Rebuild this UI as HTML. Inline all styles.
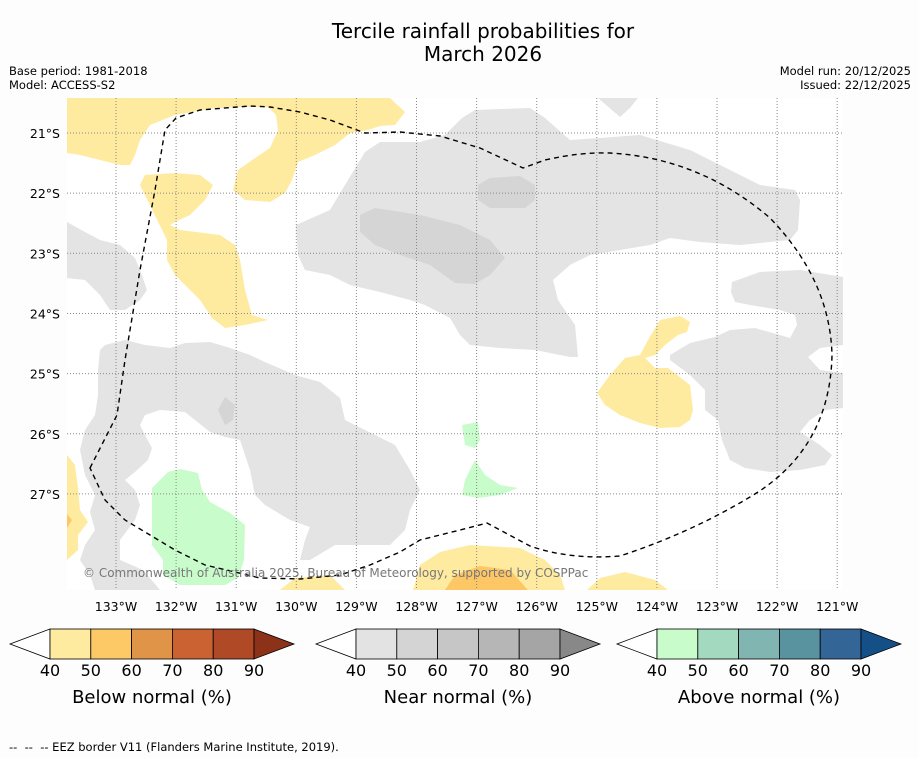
<!DOCTYPE html>
<html><head><meta charset="utf-8"><style>
body{margin:0;background:#fdfdfd;width:919px;height:758px;overflow:hidden;font-family:"Liberation Sans",sans-serif}
svg{display:block}
</style></head><body>
<svg width="919" height="758" viewBox="0 0 919 758" font-family="DejaVu Sans, Liberation Sans, sans-serif">
<rect width="919" height="758" fill="#fdfdfd"/>
<text x="483" y="38" font-size="20" text-anchor="middle" fill="#000">Tercile rainfall probabilities for</text>
<text x="483" y="61" font-size="20" text-anchor="middle" fill="#000">March 2026</text>
<text x="9" y="75" font-size="11.5">Base period: 1981-2018</text>
<text x="9" y="89" font-size="11.5">Model: ACCESS-S2</text>
<text x="911" y="75" font-size="11.5" text-anchor="end">Model run: 20/12/2025</text>
<text x="911" y="89" font-size="11.5" text-anchor="end">Issued: 22/12/2025</text>

<defs><clipPath id="mc"><rect x="67" y="98" width="776" height="492"/></clipPath></defs>
<g clip-path="url(#mc)">
<rect x="67" y="98" width="776" height="492" fill="#fff"/>
<g stroke="none">
<polygon fill="#e4e4e4" points="296,225 330,210 345,185 365,152 380,142 420,142 445,135 462,118 475,110 530,108 545,118 570,140 600,138 640,135 690,150 720,165 760,185 795,190 800,200 798,230 790,240 740,245 700,242 670,238 650,245 620,250 590,255 570,265 553,280 558,300 575,325 578,357 570,357 535,350 500,348 470,345 460,335 450,318 425,305 410,300 380,292 350,285 330,275 305,270 298,255"/>
<polygon fill="#e4e4e4" points="598,98 638,98 630,108 620,117"/>
<polygon fill="#d5d5d5" points="360,215 375,208 420,215 460,225 490,240 505,258 490,275 475,284 455,283 430,265 400,255 375,245 360,232"/>
<polygon fill="#d5d5d5" points="478,185 490,178 520,176 535,185 535,200 525,208 490,208 478,200"/>
<polygon fill="#e4e4e4" points="732,282 760,272 800,270 843,277 843,345 820,348 808,357 820,370 843,373 843,408 825,410 810,420 800,432 820,445 832,455 825,465 800,470 770,472 745,468 730,460 722,440 718,420 705,410 705,390 690,375 670,360 670,355 690,343 715,337 730,330 755,328 790,338 797,325 795,315 780,310 750,305 735,302 731,292"/>
<polygon fill="#feeba0" points="597,393 610,375 625,358 640,355 648,340 660,320 680,316 690,322 687,332 678,335 665,345 655,355 645,358 655,368 668,368 690,385 693,410 690,420 680,427 660,428 640,423 620,415 605,405"/>
<polygon fill="#c8fcca" points="462,425 478,422 480,440 475,448 465,445"/>
<polygon fill="#c8fcca" points="462,495 465,480 475,460 485,475 500,485 518,488 500,495 478,498"/>
<polygon fill="#feeba0" points="67,98 390,98 405,112 395,125 380,126 368,130 350,133 335,145 315,155 298,162 292,180 285,193 270,202 245,200 233,190 238,170 255,158 270,148 278,130 276,115 268,107 240,107 215,108 175,115 150,125 140,140 135,155 130,165 120,165 100,160 80,155 67,153"/>
<polygon fill="#feeba0" points="140,185 145,175 175,173 200,175 213,185 205,200 190,215 175,222 170,225 180,230 220,235 235,245 240,260 245,290 252,315 268,320 245,325 225,328 212,318 200,300 185,285 175,275 167,260 167,240"/>
<polygon fill="#e4e4e4" points="67,222 85,232 100,240 120,245 135,258 140,270 147,290 140,300 125,310 110,310 100,295 85,280 67,278"/>
<polygon fill="#e4e4e4" points="100,350 105,345 125,340 145,345 170,348 185,343 210,342 230,348 250,355 265,362 295,375 320,382 340,398 345,420 365,430 395,445 410,470 420,490 410,510 405,530 390,545 365,545 335,545 310,560 300,560 305,540 310,527 290,520 265,505 255,495 250,470 245,455 240,440 225,437 210,432 195,420 185,412 160,410 145,415 140,425 145,435 152,448 148,460 135,472 125,480 135,490 140,505 135,520 120,540 120,560 143,570 160,590 95,590 90,575 80,560 85,545 95,530 90,512 95,495 85,475 80,450 85,430 95,415 98,395 98,370"/>
<polygon fill="#d5d5d5" points="218,410 225,397 235,405 233,420 225,425"/>
<polygon fill="#c8fcca" points="152,488 168,472 180,469 198,473 202,490 210,502 230,513 245,525 244,560 238,578 225,585 180,585 163,575 163,560 152,545"/>
<polygon fill="#feeba0" points="67,455 75,465 78,488 80,510 88,522 78,535 78,550 67,560"/>
<polygon fill="#fdc766" points="67,514 72,520 67,528"/>
<polygon fill="#feeba0" points="413,590 420,565 440,552 470,545 520,548 545,560 560,575 565,590"/>
<polygon fill="#fdc766" points="445,590 455,575 480,566 510,570 528,590"/>
<polygon fill="#feeba0" points="587,590 600,578 625,572 655,580 668,590"/>
<polygon fill="#feeba0" points="280,590 295,578 330,575 345,590"/>
</g>
<g id="grid" stroke="#888" stroke-width="1" stroke-dasharray="1,2"></g>
<path fill="none" stroke="#000" stroke-width="1.4" stroke-dasharray="5,4" d="M90,468 L117,415 L125,360 L140,270 L155,190 L165,130 L176,118 L200,110 L250,106 L270,107 L300,112 L330,120 L365,133 L400,132 L440,136 L480,148 L523,168 L545,160 Q580,152 610,153 Q700,158 770,218 Q830,280 832,355 Q830,450 750,497 Q690,533 620,556 Q570,560 530,546 L487,523 L460,530 L420,540 L400,552 L370,565 L340,575 L300,579 L260,578 L235,572 L205,565 L175,550 L150,535 L125,520 L105,500 Z"/>
<text x="83" y="577" font-size="12" fill="#777">© Commonwealth of Australia 2025, Bureau of Meteorology, supported by COSPPac</text>
</g>
<g id="ticks" font-size="12.5" fill="#000"></g>
<g id="cbars"></g>
<text x="9" y="751" font-size="11.5">-- &#160;-- &#160;-- EEZ border V11 (Flanders Marine Institute, 2019).</text>
</svg>
<script>
const NS="http://www.w3.org/2000/svg";
const lonLabels=["133°W","132°W","131°W","130°W","129°W","128°W","127°W","126°W","125°W","124°W","123°W","122°W","121°W"];
const latLabels=["21°S","22°S","23°S","24°S","25°S","26°S","27°S"];
const cbTicks=[40,50,60,70,80,90];
const belowColors=["#feeba0","#fdc966","#e09447","#cb6232","#b04a26"];
const nearColors=["#e3e3e3","#d4d4d4","#c6c6c6","#b6b6b6","#a5a5a5"];
const aboveColors=["#c8fdcb","#a3d9be","#80b5b2","#5a93a0","#336696"];
const overColors=["#8b3219","#888888","#154f88"];
const cbTitles=["Below normal (%)","Near normal (%)","Above normal (%)"];
const lonX=i=>116+i*60.1, latY=i=>133+i*60.15;
const grid=document.getElementById('grid'), ticks=document.getElementById('ticks');
lonLabels.forEach((l,i)=>{
 const ln=document.createElementNS(NS,'line');
 
 
 ln.setAttribute('x1',lonX(i));ln.setAttribute('x2',lonX(i));ln.setAttribute('y1',98);ln.setAttribute('y2',590);grid.appendChild(ln);
 const t=document.createElementNS(NS,'text');
 
 
 t.setAttribute('x',lonX(i));t.setAttribute('y',611);t.setAttribute('text-anchor','middle');t.textContent=l;ticks.appendChild(t);
});
latLabels.forEach((l,i)=>{
 const ln=document.createElementNS(NS,'line');
 
 
 ln.setAttribute('x1',67);ln.setAttribute('x2',843);ln.setAttribute('y1',latY(i));ln.setAttribute('y2',latY(i));grid.appendChild(ln);
 const t=document.createElementNS(NS,'text');
 
 
 t.setAttribute('x',60);t.setAttribute('y',latY(i)+5);t.setAttribute('text-anchor','end');t.textContent=l;ticks.appendChild(t);
});
const cb=document.getElementById('cbars');
[[belowColors,50],[nearColors,356],[aboveColors,657]].forEach(([cols,x0],k)=>{
 const w=204/cols.length, y0=629, h=30;
 const g=document.createElementNS(NS,'g');
 
 
 cb.appendChild(g);
 const lt=document.createElementNS(NS,'polygon');
 
 
 lt.setAttribute('points',`${x0},${y0} ${x0-40},${y0+h/2} ${x0},${y0+h}`);lt.setAttribute('fill','#fff');lt.setAttribute('stroke','#000');lt.setAttribute('stroke-width','0.8');g.appendChild(lt);
 cols.forEach((c,i)=>{
  const r=document.createElementNS(NS,'rect');
  
  
  r.setAttribute('x',x0+i*w);r.setAttribute('y',y0);r.setAttribute('width',w);r.setAttribute('height',h);r.setAttribute('fill',c);r.setAttribute('stroke','#000');r.setAttribute('stroke-width','0.8');g.appendChild(r);
 });
 const rt=document.createElementNS(NS,'polygon');
 
 
 rt.setAttribute('points',`${x0+204},${y0} ${x0+244},${y0+h/2} ${x0+204},${y0+h}`);rt.setAttribute('fill',overColors[k]);rt.setAttribute('stroke','#000');rt.setAttribute('stroke-width','0.8');g.appendChild(rt);
 cbTicks.forEach((v,i)=>{
  const t=document.createElementNS(NS,'text');
  
  
  t.setAttribute('x',x0+(v-cbTicks[0])/(cbTicks[cbTicks.length-1]-cbTicks[0])*204);t.setAttribute('y',676);t.setAttribute('text-anchor','middle');t.setAttribute('font-size','16');t.textContent=v;g.appendChild(t);
 });
 const tt=document.createElementNS(NS,'text');
 
 
 tt.setAttribute('x',x0+102);tt.setAttribute('y',703);tt.setAttribute('text-anchor','middle');tt.setAttribute('font-size','18');tt.textContent=cbTitles[k];g.appendChild(tt);
});
</script>
</body></html>
